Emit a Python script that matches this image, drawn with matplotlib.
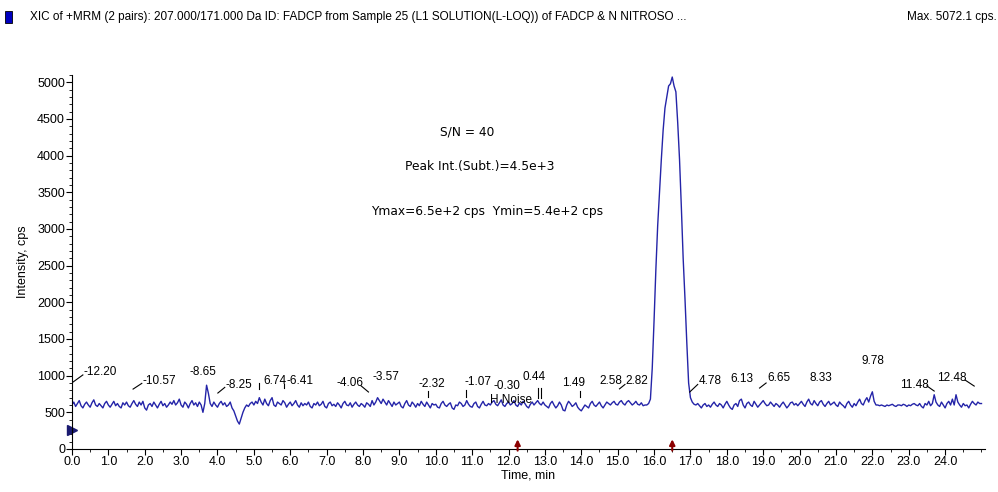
#XIC chromatogram of FADCP (MRM 207/171), recreated from the instrument screenshot

import matplotlib.pyplot as plt
import numpy as np
from matplotlib.ticker import MultipleLocator, FormatStrFormatter

plt.rcParams['font.family'] = ['Liberation Sans Narrow', 'Liberation Sans', 'DejaVu Sans']

#intensity (cps) read every 0.05 min from 0.0 to 25.0 min, one row per minute
intensity = [
    600, 640, 580, 620, 660, 590, 560, 610, 640, 600, 570, 630, 670, 600, 580, 620, 590, 560, 620, 650,  # 0
    600, 570, 610, 650, 590, 620, 580, 560, 630, 600, 640, 590, 570, 620, 660, 610, 580, 640, 600, 650,  # 1
    560, 530, 600, 620, 580, 640, 600, 560, 610, 650, 590, 620, 570, 600, 640, 610, 660, 600, 630, 680,  # 2
    600, 570, 640, 610, 560, 620, 660, 600, 630, 580, 640, 600, 500, 620, 870, 760, 620, 580, 640, 600,  # 3
    570, 620, 650, 600, 630, 580, 600, 640, 560, 520, 450, 380, 340, 420, 500, 560, 600, 580, 620, 640,  # 4
    600, 650, 620, 700, 640, 600, 680, 620, 590, 660, 700, 600, 580, 640, 620, 600, 660, 630, 570, 610,  # 5
    640, 590, 620, 660, 600, 570, 630, 590, 620, 600, 640, 580, 560, 620, 600, 640, 590, 610, 650, 580,  # 6
    560, 620, 640, 590, 610, 580, 630, 600, 560, 620, 650, 600, 590, 630, 570, 610, 640, 600, 580, 620,  # 7
    600, 570, 630, 610, 580, 660, 600, 640, 700, 660, 620, 680, 640, 600, 660, 620, 580, 640, 600, 620,  # 8
    640, 580, 560, 620, 660, 600, 580, 640, 610, 570, 620, 590, 650, 610, 580, 640, 600, 560, 620, 600,  # 9
    610, 570, 560, 620, 650, 600, 580, 610, 630, 560, 540, 600, 590, 640, 620, 580, 600, 660, 610, 580,  # 10
    570, 620, 640, 580, 560, 610, 650, 600, 590, 620, 600, 640, 660, 610, 590, 630, 670, 600, 580, 620,  # 11
    640, 600, 620, 660, 600, 580, 630, 600, 650, 620, 580, 560, 610, 640, 600, 630, 660, 620, 600, 640,  # 12
    600, 580, 560, 620, 650, 600, 560, 590, 640, 600, 530, 520, 600, 650, 620, 580, 600, 630, 570, 540,  # 13
    520, 560, 600, 580, 560, 620, 650, 600, 580, 610, 640, 590, 560, 600, 640, 620, 600, 630, 650, 610,  # 14
    600, 640, 660, 620, 600, 640, 660, 630, 600, 620, 650, 610, 600, 630, 590, 600, 600, 620, 680, 1100,  # 15
    1750, 2450, 3050, 3500, 3950, 4350, 4650, 4800, 4950, 4980, 5072, 4950, 4870, 4450, 3950, 3300, 2600, 2050, 1450, 900,  # 16
    700, 640, 610, 600, 620, 590, 560, 600, 620, 580, 600, 570, 610, 640, 600, 580, 620, 600, 560, 610,  # 17
    650, 600, 560, 540, 600, 620, 580, 660, 680, 600, 560, 620, 640, 600, 580, 650, 610, 570, 600, 630,  # 18
    660, 620, 590, 600, 640, 610, 580, 620, 600, 570, 610, 640, 600, 560, 590, 630, 640, 600, 620, 590,  # 19
    620, 650, 610, 580, 640, 680, 620, 600, 660, 620, 590, 640, 660, 610, 580, 620, 650, 600, 620, 640,  # 20
    600, 580, 640, 610, 590, 560, 620, 650, 600, 570, 620, 590, 640, 680, 620, 600, 660, 700, 640, 720,  # 21
    780, 650, 600, 600, 590, 600, 590, 580, 600, 590, 600, 610, 590, 580, 600, 600, 590, 610, 600, 580,  # 22
    600, 590, 610, 620, 600, 590, 620, 580, 560, 620, 600, 650, 590, 620, 740, 640, 600, 580, 640, 600,  # 23
    560, 620, 650, 600, 680, 600, 740, 640, 600, 570, 620, 590, 600, 560, 610, 650, 620, 600, 640, 620,  # 24
    620,
]
time = np.arange(len(intensity)) * 0.05

#peak labels: text, time of label left edge, cps of label centre
label_text = ["-12.20", "-10.57", "-8.65", "-8.25", "6.74", "-6.41", "-4.06",
              "-3.57", "-2.32", "-1.07", "-0.30", "0.44", "1.49", "2.58",
              "2.82", "4.78", "6.13", "6.65", "8.33", "9.78", "11.48", "12.48"]
label_t = [0.33, 1.95, 3.24, 4.23, 5.25, 5.90, 7.28, 8.27, 9.53, 10.80, 11.59,
           12.39, 13.46, 14.50, 15.22, 17.23, 18.10, 19.12, 20.27, 21.70,
           22.75, 23.79]
label_y = [1050, 926, 1050, 872, 926, 926, 899, 981, 886, 913, 858, 981, 899,
           926, 926, 926, 954, 967, 967, 1199, 872, 967]

#leader lines (start time, start cps, end time, end cps)
lead_t0 = [0.03, 1.68, 4.01, 5.15, 5.82, 7.95, 9.78, 10.82, 12.82, 12.90, 13.96, 15.05, 16.98, 18.90, 23.50, 24.55]
lead_y0 = [913, 817, 763, 820, 830, 860, 708, 708, 700, 700, 708, 820, 777, 831, 860, 940]
lead_t1 = [0.30, 1.92, 4.20, 5.15, 5.82, 8.15, 9.78, 10.82, 12.82, 12.90, 13.96, 15.20, 17.20, 19.08, 23.70, 24.80]
lead_y1 = [1010, 895, 840, 900, 880, 777, 790, 800, 830, 830, 790, 880, 880, 900, 790, 858]

#marker arrows on the time axis
arrow_t = [12.25, 16.50]

fig = plt.figure(figsize=(9.98, 4.92), dpi=100)
ax = fig.add_axes([0.0721, 0.0874, 0.915, 0.7602])

ax.plot(time, intensity, color='#2424a8', lw=1.0)

for t, y, s in zip(label_t, label_y, label_text):
    ax.text(t, y, s, ha='left', va='center', fontsize=8.5, color='black')
for a, b, c, d in zip(lead_t0, lead_y0, lead_t1, lead_y1):
    ax.plot([a, c], [b, d], color='black', lw=0.8)

ax.text(11.48, 668, "H Noise", ha='left', va='center', fontsize=8.5, color='black')

#result box text
ax.text(10.85, 4319, "S/N = 40", ha='center', va='center', fontsize=8.8, family='DejaVu Sans')
ax.text(11.2, 3856, "Peak Int.(Subt.)=4.5e+3", ha='center', va='center', fontsize=8.8, family='DejaVu Sans')
ax.text(11.4, 3243, "Ymax=6.5e+2 cps  Ymin=5.4e+2 cps", ha='center', va='center', fontsize=8.8, family='DejaVu Sans')

for t in arrow_t:
    ax.annotate("", xy=(t, 170), xytext=(t, -60), annotation_clip=False,
                arrowprops=dict(arrowstyle='-|>', color='#8b0000', lw=1.5, mutation_scale=8))

ax.plot(0, 260, marker='>', color='#1a1a70', markersize=7, clip_on=False)

#axes
ax.set_xlim(0, 25.1)
ax.set_ylim(0, 5100)
ax.xaxis.set_major_locator(MultipleLocator(1.0))
ax.xaxis.set_minor_locator(MultipleLocator(0.5))
ax.xaxis.set_major_formatter(FormatStrFormatter('%.1f'))
ax.yaxis.set_major_locator(MultipleLocator(500))
ax.yaxis.set_minor_locator(MultipleLocator(100))
ax.set_xticks(np.arange(0, 25, 1.0))
ax.spines['top'].set_visible(False)
ax.spines['right'].set_visible(False)
ax.tick_params(axis='both', which='major', length=4, labelsize=9, pad=1)
ax.tick_params(axis='both', which='minor', length=2)
ax.set_xlabel("Time, min", fontsize=9, labelpad=1)
ax.set_ylabel("Intensity, cps", fontsize=9, labelpad=6)

#header line
fig.patches.append(plt.Rectangle((5 / 998, 1 - 23 / 492), 7 / 998, 12 / 492,
                                 transform=fig.transFigure, facecolor='#0000c0', edgecolor='black', lw=0.6))
fig.text(30 / 998, 1 - 17 / 492,
         "XIC of +MRM (2 pairs): 207.000/171.000 Da ID: FADCP from Sample 25 (L1 SOLUTION(L-LOQ)) of FADCP & N NITROSO ...",
         ha='left', va='center', fontsize=8.5)
fig.text(997 / 998, 1 - 17 / 492, "Max. 5072.1 cps.", ha='right', va='center', fontsize=8.5)

fig.savefig("out.png", dpi=100)
